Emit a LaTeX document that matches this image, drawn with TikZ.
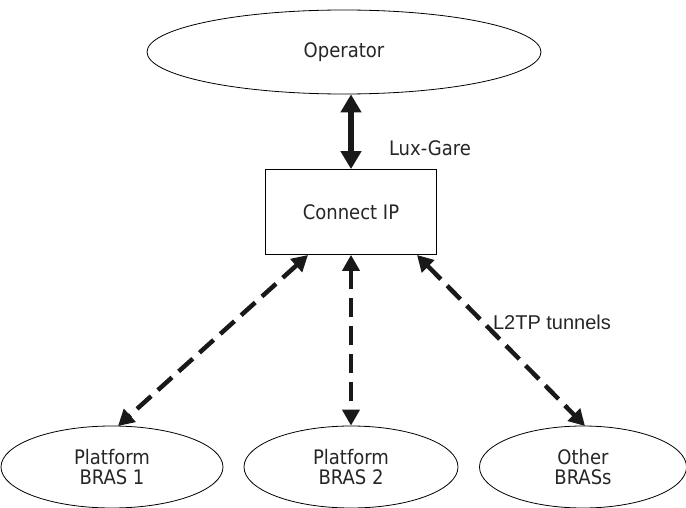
\documentclass[tikz,border=0pt]{standalone}
\usepackage{fontspec}
\setmainfont{DejaVu Sans Condensed}
\newfontfamily\arialfont{Liberation Sans}
\usetikzlibrary{arrows.meta,shapes.geometric}
\begin{document}
\begin{tikzpicture}[x=1pt,y=-1pt,
  txt/.style={font=\fontsize{20}{20.5}\selectfont,text=black!85},
  ell/.style={draw,ellipse,line width=0.8pt,inner sep=0pt,align=center,txt},
  box/.style={draw,rectangle,line width=0.8pt,inner sep=0pt,txt},
  solidarr/.style={line width=6.5pt,{Triangle[width=20pt,length=18pt]}-{Triangle[width=20pt,length=18pt]},draw=black!90},
  dasharr/.style={line width=4.5pt,dash pattern=on 19pt off 9pt,{Triangle[width=17pt,length=16pt]}-{Triangle[width=17pt,length=16pt]},draw=black!90}
]
\useasboundingbox (0,0) rectangle (686,508);
\node[ell,minimum width=394pt,minimum height=84pt] (op) at (344,52) {Operator};
\node[box,minimum width=171pt,minimum height=85pt] (cip) at (351,212) {Connect IP};
\node[ell,minimum width=222pt,minimum height=82pt] (b1) at (112,467) {Platform\\BRAS 1};
\node[ell,minimum width=214pt,minimum height=82pt] (b2) at (351,467) {Platform\\BRAS 2};
\node[ell,minimum width=207pt,minimum height=82pt] (b3) at (583,467) {Other\\BRASs};
\coordinate (c1) at (308,255);
\coordinate (c3) at (417,255);
\coordinate (t1) at (118,426);
\coordinate (t3) at (585,426);
\draw[solidarr] (op.south -| cip.north) -- (cip.north);
\node[txt] (lux) at (430,148) {Lux-Gare};
\draw[dasharr] (c1) -- (t1);
\draw[dasharr] (cip.south) -- (b2.north);
\draw[dasharr] (c3) -- (t3);
\node[txt,font=\arialfont\fontsize{20}{20.5}\selectfont] (l2tp) at (552,322) {L2TP tunnels};
\end{tikzpicture}
\end{document}
